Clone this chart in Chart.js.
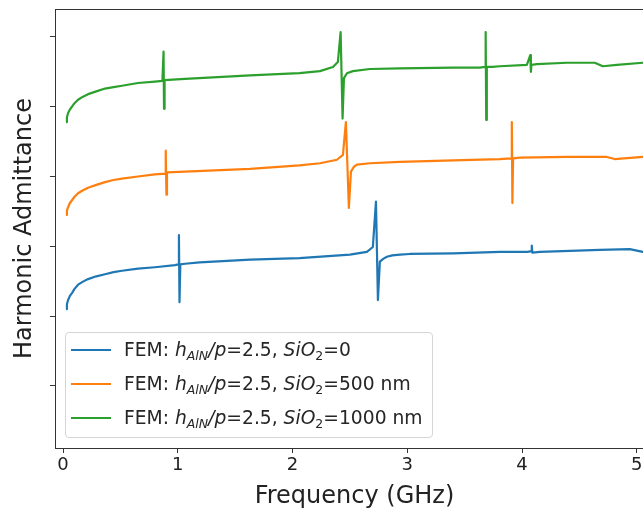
<!DOCTYPE html>
<html>
<head>
<meta charset="utf-8">
<script src="https://cdn.jsdelivr.net/npm/chart.js@4.4.1/dist/chart.umd.min.js"></script>
<style>
  body { margin: 0; overflow: hidden; background: #fff; }
  #wrap { position: relative; width: 643px; height: 514px; overflow: hidden; }
  #legend {
    position: absolute; left: 65px; top: 332px; width: 366px; height: 104px;
    border: 1px solid #d5d5d5; border-radius: 4px; background: rgba(255,255,255,0.85);
    font-family: "DejaVu Sans", sans-serif; font-size: 18.7px; color: #262626;
  }
  .row { position: absolute; left: 0; height: 34px; line-height: 34px; white-space: nowrap; }
  .row .ln { position: absolute; left: 5px; top: 16px; width: 40px; height: 2px; }
  .row .tx { position: absolute; left: 58px; top: 0; }
  .row i { font-style: italic; }
  .row sub { font-size: 12.5px; vertical-align: -4px; line-height: 0; }
</style>
</head>
<body>
<div id="wrap">
  <canvas id="myChart" width="680" height="514"></canvas>
  <div id="legend"></div>
</div>
<script>
// frequency (GHz) / admittance (arb. units, curves offset)
const freqBlue = [0.026, 0.034, 0.044, 0.06, 0.078, 0.10, 0.131, 0.17, 0.218, 0.29, 0.366, 0.44, 0.514, 0.653, 0.801, 0.976, 1.005, 1.010, 1.015, 1.022,
  1.063, 1.19, 1.63, 2.06, 2.50, 2.648, 2.70, 2.727, 2.744, 2.761, 2.79, 2.822, 2.87, 2.936, 3.02, 3.40, 3.807, 4.05, 4.08,
  4.085, 4.09, 4.155, 4.678, 4.939, 5.052, 5.12];
const admBlue = [2.10, 2.17, 2.23, 2.29, 2.33, 2.39, 2.45, 2.49, 2.53, 2.57, 2.60, 2.63, 2.65, 2.68, 2.70, 2.73, 2.74, 3.16, 2.20, 2.74,
  2.75, 2.77, 2.81, 2.83, 2.88, 2.92, 2.99, 3.64, 2.23, 2.78, 2.82, 2.85, 2.87, 2.88, 2.89, 2.90, 2.92, 2.92, 2.93,
  3.01, 2.91, 2.92, 2.95, 2.96, 2.92, 2.93];

const freqOrange = [0.026, 0.034, 0.044, 0.06, 0.078, 0.10, 0.131, 0.17, 0.218, 0.29, 0.366, 0.44, 0.514, 0.653, 0.801, 0.889, 0.893, 0.897, 0.901, 0.906,
  1.063, 1.63, 2.06, 2.239, 2.387, 2.439, 2.465, 2.491, 2.509, 2.535, 2.561, 2.674, 2.936, 3.40, 3.807, 3.905, 3.911,
  3.916, 3.922, 3.98, 4.39, 4.739, 4.808, 5.052, 5.12];
const admOrange = [3.45, 3.51, 3.56, 3.62, 3.66, 3.71, 3.76, 3.80, 3.84, 3.88, 3.92, 3.95, 3.97, 4.00, 4.03, 4.04, 4.05, 4.37, 3.74, 4.06,
  4.07, 4.11, 4.16, 4.19, 4.24, 4.31, 4.78, 3.55, 4.07, 4.14, 4.17, 4.19, 4.21, 4.23, 4.25, 4.26, 4.78,
  3.62, 4.26, 4.27, 4.28, 4.28, 4.25, 4.28, 4.28];

const freqGreen = [0.026, 0.034, 0.044, 0.06, 0.078, 0.10, 0.131, 0.17, 0.218, 0.29, 0.366, 0.44, 0.514, 0.653, 0.801, 0.866, 0.871, 0.876, 0.880, 0.885,
  1.063, 1.63, 2.06, 2.239, 2.352, 2.395, 2.419, 2.436, 2.448, 2.474, 2.526, 2.674, 2.936, 3.40, 3.63, 3.678,
  3.683, 3.688, 3.693, 3.74, 3.807, 4.042, 4.072, 4.077, 4.082, 4.129, 4.39, 4.634, 4.704, 4.826, 5.052, 5.12];
const admGreen = [4.78, 4.85, 4.91, 4.96, 5.00, 5.05, 5.10, 5.14, 5.18, 5.22, 5.26, 5.28, 5.30, 5.34, 5.36, 5.37, 5.37, 5.79, 4.97, 5.38,
  5.40, 5.45, 5.48, 5.51, 5.57, 5.64, 6.07, 4.83, 5.41, 5.48, 5.51, 5.54, 5.55, 5.56, 5.56, 5.57,
  6.07, 4.81, 5.57, 5.57, 5.58, 5.60, 5.74, 5.50, 5.60, 5.61, 5.63, 5.63, 5.58, 5.60, 5.63, 5.63];

const sio2Labels = ["0", "500 nm", "1000 nm"];
const colors = ["#1f77b4", "#ff7f0e", "#2ca02c"];
const xTicks = [0, 1, 2, 3, 4, 5];
const yTicks = [1, 2, 3, 4, 5, 6];

const toPts = (xs, ys) => xs.map((x, i) => ({ x: x, y: ys[i] }));
const series = [toPts(freqBlue, admBlue), toPts(freqOrange, admOrange), toPts(freqGreen, admGreen)];

// legend (html so the subscripts/italics look right)
const legend = document.getElementById("legend");
sio2Labels.forEach((lab, i) => {
  const row = document.createElement("div");
  row.className = "row";
  row.style.top = (i * 34) + "px";
  row.innerHTML = '<span class="ln" style="background:' + colors[i] + '"></span>' +
    '<span class="tx">FEM: <i>h<sub>AlN</sub>/p</i>=2.5, <i>SiO</i><sub>2</sub>=' + lab + '</span>';
  legend.appendChild(row);
});

const frame = {
  id: "frame",
  afterDatasetsDraw(c) {
    const a = c.chartArea, ctx = c.ctx;
    ctx.save();
    ctx.strokeStyle = "#333";
    ctx.lineWidth = 1;
    ctx.strokeRect(a.left + 0.5, a.top + 0.5, a.right - a.left, a.bottom - a.top);
    ctx.restore();
  }
};

Chart.defaults.font.family = "'DejaVu Sans', sans-serif";
Chart.defaults.color = "#222";

const ctx = document.getElementById("myChart");
new Chart(ctx, {
  type: "scatter",
  data: {
    datasets: series.map((pts, i) => ({
      label: "FEM: SiO2=" + sio2Labels[i],
      data: pts,
      showLine: true,
      borderColor: colors[i],
      backgroundColor: colors[i],
      borderWidth: 2.2,
      pointRadius: 0,
      tension: 0,
      borderJoinStyle: "round",
      order: 3 - i
    }))
  },
  options: {
    responsive: false,
    animation: false,
    layout: { padding: { top: 9, right: 26, bottom: 0, left: 0 } },
    plugins: { legend: { display: false }, tooltip: { enabled: false } },
    scales: {
      x: {
        type: "linear",
        min: -0.07,
        max: 5.15,
        afterBuildTicks: (s) => { s.ticks = xTicks.map(v => ({ value: v })); },
        afterFit: (s) => { s.height = 66; },
        ticks: { font: { size: 18 }, padding: 2, color: "#222" },
        grid: { drawOnChartArea: false, drawTicks: true, tickLength: 5, color: "#333" },
        border: { color: "#333" },
        title: { display: true, text: "Frequency (GHz)", font: { size: 24 }, color: "#222", padding: { top: 0, bottom: 3 } }
      },
      y: {
        type: "linear",
        min: 0.11,
        max: 6.40,
        afterBuildTicks: (s) => { s.ticks = yTicks.map(v => ({ value: v })); },
        afterFit: (s) => { s.width = 55; },
        ticks: { callback: () => "", padding: 0 },
        grid: { drawOnChartArea: false, drawTicks: true, tickLength: 5, color: "#333" },
        border: { color: "#333" },
        title: { display: true, text: "Harmonic Admittance", font: { size: 24 }, color: "#222", padding: { top: 10, bottom: 0 } }
      }
    }
  },
  plugins: [frame]
});
</script>
</body>
</html>
